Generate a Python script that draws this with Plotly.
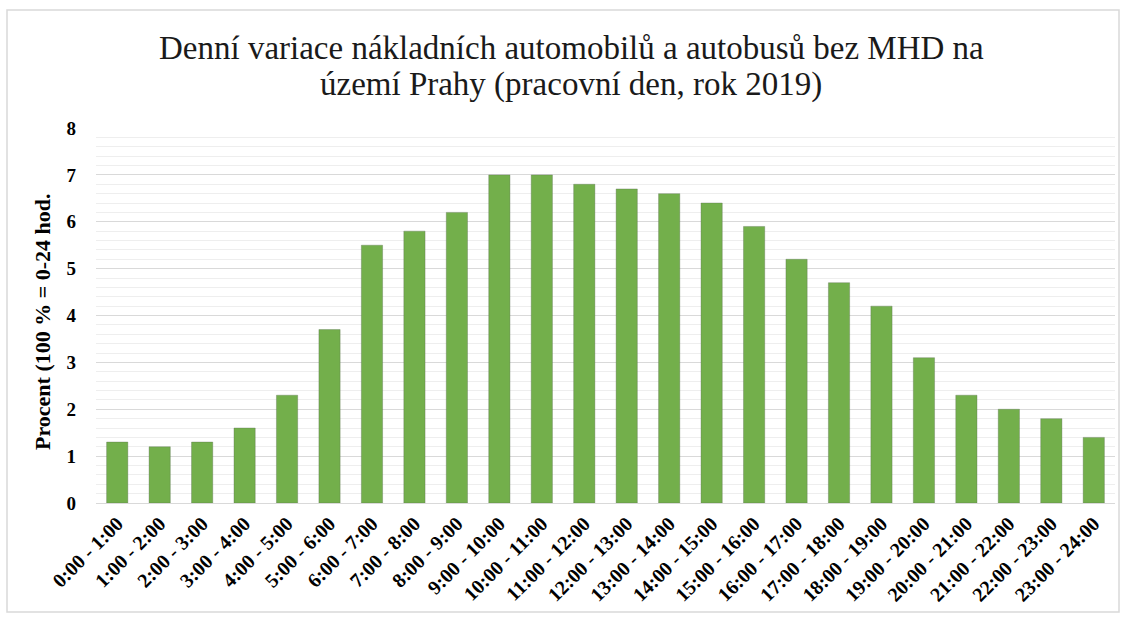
import plotly.graph_objects as go

categories = ["0:00 - 1:00", "1:00 - 2:00", "2:00 - 3:00", "3:00 - 4:00", "4:00 - 5:00",
              "5:00 - 6:00", "6:00 - 7:00", "7:00 - 8:00", "8:00 - 9:00", "9:00 - 10:00",
              "10:00 - 11:00", "11:00 - 12:00", "12:00 - 13:00", "13:00 - 14:00",
              "14:00 - 15:00", "15:00 - 16:00", "16:00 - 17:00", "17:00 - 18:00",
              "18:00 - 19:00", "19:00 - 20:00", "20:00 - 21:00", "21:00 - 22:00",
              "22:00 - 23:00", "23:00 - 24:00"]
values = [1.3, 1.2, 1.3, 1.6, 2.3, 3.7, 5.5, 5.8, 6.2, 7.0, 7.0, 6.8, 6.7, 6.6,
          6.4, 5.9, 5.2, 4.7, 4.2, 3.1, 2.3, 2.0, 1.8, 1.4]
y_ticks = [0, 1, 2, 3, 4, 5, 6, 7, 8]

title_lines = ["Denní variace nákladních automobilů a autobusů bez MHD na",
               "území Prahy (pracovní den, rok 2019)"]
y_title = "Procent (100 % = 0-24 hod."

FONT = "Liberation Serif, Times New Roman, serif"
W, H = 1126, 620
ml, mr, mt, mb = 96, 11, 128, 117
pw, ph = W - ml - mr, H - mt - mb


def px_to_paper_x(p):
    return (p - ml) / pw


def px_to_paper_y(p):
    return (H - mb - p) / ph


fig = go.Figure()
fig.add_trace(go.Bar(
    x=categories, y=values,
    marker=dict(color="#73af4b", line=dict(color="rgba(90,110,80,0.35)", width=1)),
    hoverinfo="skip",
))

annotations = [
    dict(text=title_lines[0], x=px_to_paper_x(571), y=px_to_paper_y(48),
         xref="paper", yref="paper", xanchor="center", yanchor="middle", showarrow=False,
         font=dict(size=33, family=FONT, color="#1a1a1a")),
    dict(text=title_lines[1], x=px_to_paper_x(571), y=px_to_paper_y(84),
         xref="paper", yref="paper", xanchor="center", yanchor="middle", showarrow=False,
         font=dict(size=33, family=FONT, color="#1a1a1a")),
    dict(text=y_title, x=px_to_paper_x(42), y=px_to_paper_y(322),
         xref="paper", yref="paper", xanchor="center", yanchor="middle", showarrow=False,
         textangle=-90,
         font=dict(size=22, family=FONT, color="black", weight="bold")),
]

fig.update_layout(
    width=W, height=H,
    margin=dict(l=ml, r=mr, t=mt, b=mb, autoexpand=False),
    paper_bgcolor="white", plot_bgcolor="white",
    showlegend=False,
    font=dict(family=FONT, color="black"),
    xaxis=dict(
        tickangle=-45, automargin=False,
        tickfont=dict(size=20, family=FONT, weight="bold"),
        showgrid=False, showline=True, linecolor="#d9d9d9", linewidth=1,
        ticks="", fixedrange=True,
    ),
    yaxis=dict(
        range=[0, 8], tickvals=y_ticks, automargin=False,
        tickfont=dict(size=19, family=FONT, weight="bold"),
        showgrid=True, gridcolor="#d9d9d9", gridwidth=1,
        minor=dict(dtick=0.2, showgrid=True, gridcolor="#eeeeee", gridwidth=1),
        zeroline=False, showline=False, ticks="",
        ticklabelstandoff=19,
    ),
    bargap=0.5,
    annotations=annotations,
    shapes=[dict(type="rect", xref="paper", yref="paper",
                 x0=px_to_paper_x(7), x1=px_to_paper_x(1119),
                 y0=px_to_paper_y(612), y1=px_to_paper_y(10),
                 line=dict(color="#d9d9d9", width=1.5), fillcolor="rgba(0,0,0,0)", layer="below")],
)

fig.write_html("out.html", config={"displayModeBar": False},
               post_script="document.body.style.margin='0';document.body.style.overflow='hidden';")
